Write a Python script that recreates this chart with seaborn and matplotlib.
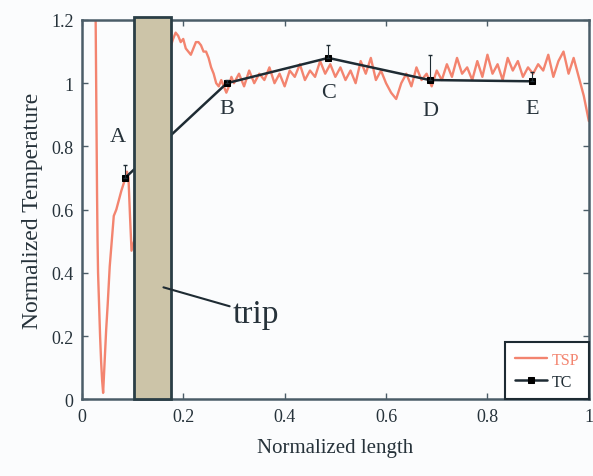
import numpy as np
import pandas as pd
import matplotlib.pyplot as plt
import seaborn as sns
from matplotlib.patches import Rectangle

# TSP profile
tsp_x = [0.027, 0.028, 0.029, 0.030, 0.031, 0.032, 0.034, 0.036, 0.038, 0.040, 0.042,
         0.045, 0.048, 0.051, 0.055, 0.059, 0.063, 0.068, 0.073, 0.078, 0.082, 0.086,
         0.089, 0.092, 0.095, 0.098, 0.103,
         0.176, 0.180, 0.185, 0.190, 0.195, 0.200, 0.205, 0.210, 0.215, 0.220,
         0.225, 0.230, 0.235, 0.240, 0.245, 0.250, 0.255, 0.260, 0.265, 0.270,
         0.275, 0.280, 0.285, 0.290, 0.295, 0.300,
         0.31, 0.32, 0.33, 0.34, 0.35, 0.36, 0.37, 0.38, 0.39, 0.40,
         0.41, 0.42, 0.43, 0.44, 0.45, 0.46, 0.47, 0.48, 0.49, 0.50,
         0.51, 0.52, 0.53, 0.54, 0.55, 0.56, 0.57, 0.58, 0.59, 0.60,
         0.61, 0.62, 0.63, 0.64, 0.65, 0.66, 0.67, 0.68, 0.69, 0.70,
         0.71, 0.72, 0.73, 0.74, 0.75, 0.76, 0.77, 0.78, 0.79, 0.80,
         0.81, 0.82, 0.83, 0.84, 0.85, 0.86, 0.87, 0.88, 0.89, 0.90,
         0.91, 0.92, 0.93, 0.94, 0.95, 0.96, 0.97, 0.98, 0.99, 1.00]
tsp_y = [1.25, 1.05, 0.85, 0.65, 0.50, 0.40, 0.30, 0.20, 0.12, 0.06, 0.02,
         0.12, 0.22, 0.30, 0.42, 0.50, 0.58, 0.60, 0.63, 0.66, 0.68, 0.70,
         0.72, 0.70, 0.58, 0.47, 0.50,
         1.12, 1.14, 1.16, 1.15, 1.13, 1.14, 1.11, 1.10, 1.09, 1.11,
         1.13, 1.13, 1.12, 1.10, 1.10, 1.08, 1.05, 1.03, 1.00, 0.99,
         1.01, 0.99, 0.97, 0.99, 1.02, 1.00,
         1.03, 0.99, 1.04, 1.00, 1.03, 1.01, 1.05, 1.00, 1.03, 0.99,
         1.04, 1.02, 1.06, 1.01, 1.04, 1.02, 1.07, 1.03, 1.06, 1.02,
         1.05, 1.01, 1.04, 1.00, 1.07, 1.03, 1.08, 1.01, 1.04, 1.00,
         0.97, 0.95, 1.00, 1.03, 0.99, 1.05, 1.01, 1.03, 0.99, 1.04,
         1.01, 1.06, 1.02, 1.08, 1.03, 1.05, 1.01, 1.07, 1.02, 1.09,
         1.03, 1.06, 1.01, 1.08, 1.04, 1.07, 1.02, 1.05, 1.03, 1.06,
         1.04, 1.09, 1.02, 1.07, 1.10, 1.03, 1.08, 1.02, 0.96, 0.88]

# TC thermocouple points
tc_labels = ["A", "B", "C", "D", "E"]
tc_x = [0.085, 0.286, 0.486, 0.686, 0.887]
tc_y = [0.70, 1.00, 1.08, 1.01, 1.006]
tc_err = [0.04, 0.01, 0.04, 0.08, 0.03]

# trip strip
trip_start = 0.103
trip_end = 0.176

sns.set_style("ticks")
plt.rcParams['font.family'] = ['Liberation Serif', 'DejaVu Serif']

fig = plt.figure(figsize=(5.93, 4.77), dpi=100, facecolor='#fbfcfd')
ax = fig.add_axes([0.138, 0.161, 0.855, 0.795])
ax.set_facecolor('#fbfcfd')

red = '#f3846f'
dark = '#1e2b33'
spine = '#4b5d68'
txt = '#26323a'

tsp_df = pd.DataFrame({'x': tsp_x, 'y': tsp_y})
tc_df = pd.DataFrame({'x': tc_x, 'y': tc_y})

sns.lineplot(data=tsp_df, x='x', y='y', sort=False, estimator=None, color=red,
             lw=1.7, label='TSP', ax=ax, zorder=2)
sns.lineplot(data=tc_df, x='x', y='y', sort=False, estimator=None, color=dark,
             lw=1.8, marker='s', markersize=5, markeredgecolor='black',
             markerfacecolor='black', label='TC', ax=ax, zorder=3)
ax.errorbar(tc_x, tc_y, yerr=[np.zeros(len(tc_err)), tc_err], fmt='none',
            ecolor=dark, elinewidth=0.8, capsize=1.5, zorder=3)

ax.add_patch(Rectangle((trip_start, 0), trip_end - trip_start, 1.21,
                       facecolor='#ccc4a8', edgecolor='#2a3e46', lw=2,
                       zorder=4, clip_on=False))

label_pos = [(0.071, 0.83), (0.286, 0.92), (0.486, 0.97), (0.688, 0.915), (0.889, 0.92)]
for lab, (lx, ly) in zip(tc_labels, label_pos):
    ax.text(lx, ly, lab, ha='center', va='center', fontsize=16, color=txt, zorder=5)

ax.annotate('trip', xy=(0.161, 0.354), xytext=(0.298, 0.27),
            fontsize=24, color=txt, va='center', ha='left',
            arrowprops=dict(arrowstyle='-', color=dark, lw=1.5,
                            shrinkA=0, shrinkB=0), zorder=5)

ax.set_xlim(0, 1)
ax.set_ylim(0, 1.2)
xt = [0, 0.2, 0.4, 0.6, 0.8, 1.0]
yt = [0, 0.2, 0.4, 0.6, 0.8, 1.0, 1.2]
ax.set_xticks(xt)
ax.set_xticklabels(["0", "0.2", "0.4", "0.6", "0.8", "1"])
ax.set_yticks(yt)
ax.set_yticklabels(["0", "0.2", "0.4", "0.6", "0.8", "1", "1.2"])
ax.tick_params(direction='in', top=True, right=True, length=4, width=1,
               color=spine, labelsize=13, labelcolor=txt, pad=6)
for s in ax.spines.values():
    s.set_color(spine)
    s.set_linewidth(1.8)

ax.set_xlabel('Normalized length', fontsize=15, color=txt, labelpad=10)
ax.set_ylabel('Normalized Temperature', fontsize=17, color=txt, labelpad=6)

leg = ax.legend(loc='lower right', borderaxespad=0, fancybox=False,
                edgecolor=dark, framealpha=1, fontsize=11.5, handlelength=2.0,
                handletextpad=0.3, borderpad=0.6, labelspacing=0.35)
leg.get_frame().set_linewidth(1.5)
leg.get_texts()[0].set_color(red)
leg.get_texts()[1].set_color(dark)
leg.set_zorder(6)

plt.savefig('out.png', dpi=100, facecolor=fig.get_facecolor())
